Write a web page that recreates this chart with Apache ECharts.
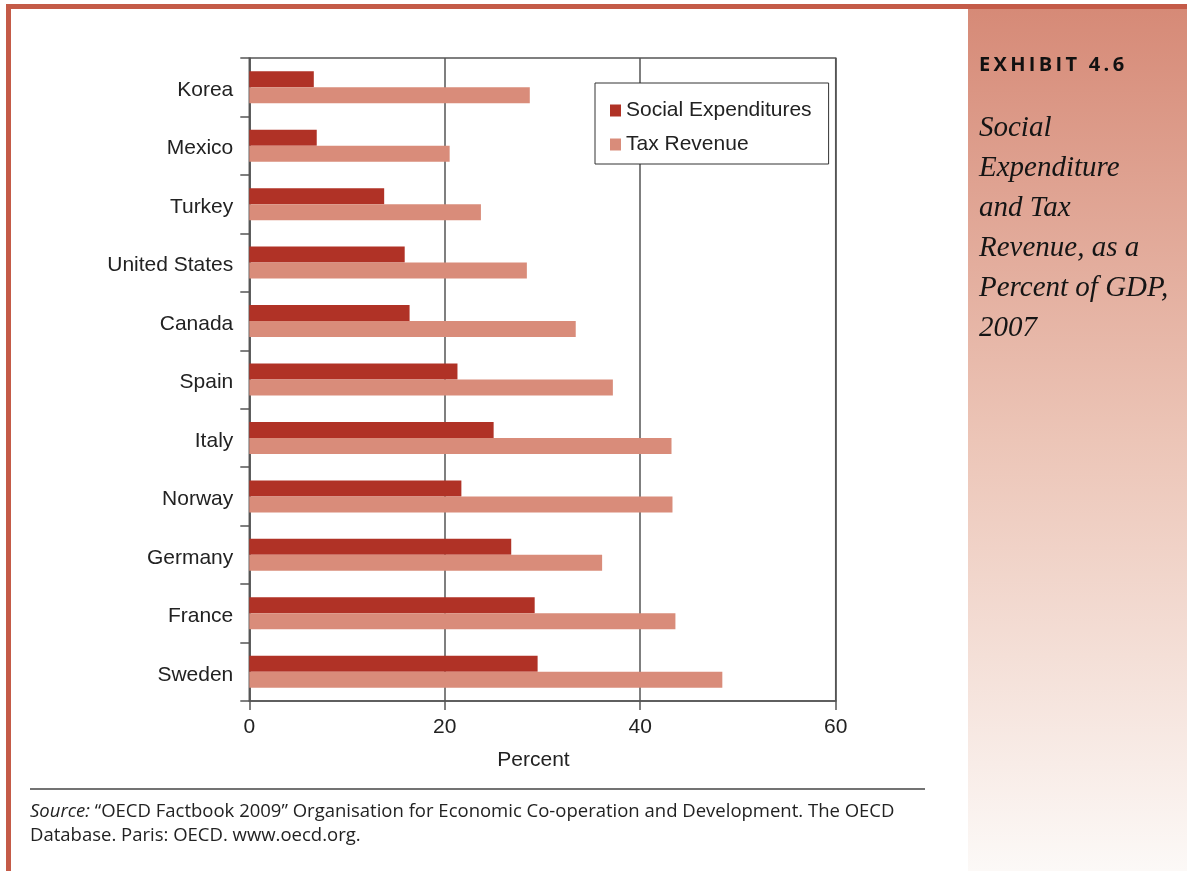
<!DOCTYPE html>
<html>
<head>
<meta charset="utf-8">
<title>Social Expenditure and Tax Revenue, as a Percent of GDP, 2007</title>
<script src="https://cdn.jsdelivr.net/npm/echarts@6/dist/echarts.min.js"></script>
<style>
  html, body { margin: 0; padding: 0; background: #ffffff; }
  #chart { width: 1187px; height: 871px; }
</style>
</head>
<body>
<div id="chart"></div>
<script>
// Countries, listed top to bottom
const countries = ['Korea', 'Mexico', 'Turkey', 'United States', 'Canada', 'Spain',
                   'Italy', 'Norway', 'Germany', 'France', 'Sweden'];
// Percent of GDP, 2007
const socialExpenditures = [6.6, 6.9, 13.8, 15.9, 16.4, 21.3, 25.0, 21.7, 26.8, 29.2, 29.5];
const taxRevenue = [28.7, 20.5, 23.7, 28.4, 33.4, 37.2, 43.2, 43.3, 36.1, 43.6, 48.4];
const seriesNames = ['Social Expenditures', 'Tax Revenue'];
const percentTicks = [0, 20, 40, 60];

const SANS = '"Liberation Sans", Arial, Helvetica, sans-serif';
const NOTE_FONT = '"Open Sans", "Noto Sans", sans-serif';
const lineColor = '#555555';
const textColor = '#222222';
const frameRed = '#c45b48';

const chart = echarts.init(document.getElementById('chart'), null, { renderer: 'canvas' });

// spaced-out caps for the exhibit number
const thin = '\u2009';
const exhibitLabel = 'EXHIBIT 4.6'.split('').join(thin);

chart.setOption({
  animation: false,
  backgroundColor: '#ffffff',
  textStyle: { fontFamily: SANS },
  grid: {
    left: 249.3, right: 1187 - 835.7, top: 58, bottom: 871 - 701,
    containLabel: false, outerBoundsMode: 'none',
    show: true, borderColor: lineColor, borderWidth: 1.5, backgroundColor: 'transparent'
  },
  legend: {
    data: seriesNames,
    orient: 'vertical',
    left: 595, top: 83,
    padding: [17, 17, 9, 15],
    itemWidth: 11, itemHeight: 12, itemGap: 13,
    icon: 'rect',
    backgroundColor: '#ffffff',
    borderColor: '#333333', borderWidth: 1,
    borderRadius: 0,
    textStyle: { fontSize: 21, color: textColor, fontFamily: SANS }
  },
  xAxis: {
    type: 'value',
    min: percentTicks[0], max: percentTicks[percentTicks.length - 1], interval: 20,
    name: 'Percent',
    nameLocation: 'middle',
    nameGap: 49,
    nameTextStyle: { fontSize: 21, color: textColor, fontFamily: SANS, padding: [0, 18, 0, 0] },
    axisLine: { show: true, lineStyle: { color: lineColor, width: 1.5 } },
    axisTick: { show: true, inside: false, length: 9, lineStyle: { color: lineColor, width: 1.5 } },
    axisLabel: { fontSize: 21, color: textColor, margin: 16, fontFamily: SANS },
    splitLine: { show: true, lineStyle: { color: lineColor, width: 1.5 } }
  },
  yAxis: {
    type: 'category',
    data: countries,
    inverse: true,
    axisLine: { show: true, lineStyle: { color: lineColor, width: 1.5 } },
    axisTick: { show: true, inside: false, length: 9, alignWithLabel: false, interval: 0,
                lineStyle: { color: lineColor, width: 1.5 } },
    axisLabel: {
      margin: 16, interval: 0,
      formatter: function (v) { return '{c|' + v + '}'; },
      rich: { c: { fontSize: 21, color: textColor, fontFamily: SANS, padding: [6, 0, 0, 0] } }
    },
    splitLine: { show: false }
  },
  series: [
    {
      name: seriesNames[0], type: 'bar', data: socialExpenditures,
      barWidth: 16, barGap: '0%',
      itemStyle: { color: '#b03226' }
    },
    {
      name: seriesNames[1], type: 'bar', data: taxRevenue,
      barWidth: 16, barGap: '0%',
      itemStyle: { color: '#d98c7a' }
    }
  ],
  graphic: [
    // side panel with vertical fade
    {
      type: 'rect', z: -10, silent: true,
      shape: { x: 968, y: 9, width: 1187 - 968, height: 871 - 9 },
      style: {
        fill: new echarts.graphic.LinearGradient(0, 0, 0, 1, [
          { offset: 0, color: '#d68a77' },
          { offset: 0.5, color: '#ecc5b7' },
          { offset: 1, color: '#fcf9f7' }
        ])
      }
    },
    // frame: top and left rules
    { type: 'rect', silent: true, shape: { x: 6, y: 4, width: 1181, height: 5 }, style: { fill: frameRed } },
    { type: 'rect', silent: true, shape: { x: 6, y: 4, width: 5, height: 867 }, style: { fill: frameRed } },
    // rule above the source note
    {
      type: 'line', silent: true,
      shape: { x1: 30, y1: 789, x2: 925, y2: 789 },
      style: { stroke: '#444444', lineWidth: 1.5 }
    },
    // source note
    {
      type: 'text', silent: true, left: 30, top: 800,
      style: {
        text: '{i|Source:} \u201COECD Factbook 2009\u201D Organisation for Economic Co-operation and Development. The OECD\nDatabase. Paris: OECD. www.oecd.org.',
        font: '18.5px ' + NOTE_FONT,
        fill: '#222222',
        lineHeight: 24,
        rich: {
          i: { fontStyle: 'italic', fontSize: 18.5, fontFamily: NOTE_FONT, fill: '#222222', lineHeight: 24 }
        }
      }
    },
    // exhibit label
    {
      type: 'text', silent: true, left: 979, top: 55,
      style: {
        text: exhibitLabel,
        font: 'bold 20px ' + NOTE_FONT,
        fill: '#111111'
      }
    },
    // panel title
    {
      type: 'text', silent: true, left: 979, top: 108,
      style: {
        text: 'Social\nExpenditure\nand Tax\nRevenue, as a\nPercent of GDP,\n2007',
        font: 'italic 29px "Liberation Serif", "DejaVu Serif", serif',
        fill: '#151515',
        lineHeight: 40
      }
    }
  ]
});
</script>
</body>
</html>
